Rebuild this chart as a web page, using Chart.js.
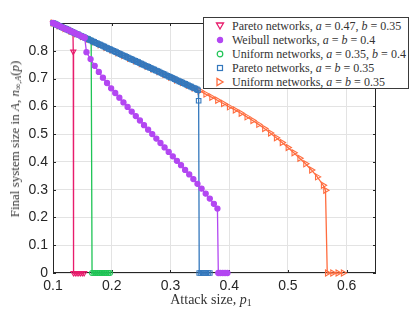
<!DOCTYPE html>
<html>
<head>
<meta charset="utf-8">
<script src="https://cdn.jsdelivr.net/npm/chart.js@4"></script>
<style>
  body { margin: 0; background: #fff; }
  #wrap { position: relative; width: 415px; height: 312px; }
  #chart { position: absolute; left: 0; top: 0; }
  .serif { font-family: "Liberation Serif", "DejaVu Serif", serif; color: #333; }
  .ytitle { position: absolute; left: 15px; top: 139px; white-space: nowrap; font-size: 13px;
            transform: translate(-50%, -50%) rotate(-90deg); }
  .xtitle { position: absolute; left: 211px; top: 300px; white-space: nowrap; font-size: 14px;
            transform: translate(-50%, -50%); }
  sub { font-size: 70%; vertical-align: -0.25em; line-height: 0; }
  .legend { position: absolute; left: 203px; top: 17px; width: 206px; height: 72px;
            background: #fff; border: 1px solid #3a3a3a; box-sizing: border-box; font-size: 12px; }
  .legend .row { position: absolute; left: 0; height: 14px; line-height: 14px; white-space: nowrap; }
  .legend svg { position: absolute; left: 11px; top: 2px; }
  .legend span { position: absolute; left: 28px; top: 0; }
</style>
</head>
<body>
<div id="wrap">
  <canvas id="chart" width="415" height="312"></canvas>
  <div class="serif ytitle">Final system size in <i>A</i>, <i>n</i><sub>∞,<i>A</i></sub>(<i>p</i>)</div>
  <div class="serif xtitle">Attack size, <i>p</i><sub>1</sub></div>
  <div class="serif legend" id="legend"></div>
</div>
<script>
// x ticks / y ticks
const xTicks = [0.1, 0.2, 0.3, 0.4, 0.5, 0.6];
const yTicks = [0, 0.1, 0.2, 0.3, 0.4, 0.5, 0.6, 0.7, 0.8];

// Pareto networks, a = 0.47, b = 0.35
const paretoAP = [0.100, 0.104, 0.108, 0.112, 0.116, 0.120, 0.124, 0.128, 0.132, 0.134, 0.1345, 0.135, 0.138, 0.141, 0.144, 0.147, 0.150, 0.153];
const paretoAN = [0.900, 0.896, 0.892, 0.888, 0.884, 0.880, 0.877, 0.873, 0.869, 0.867, 0.797, 0, 0, 0, 0, 0, 0, 0];

// Weibull networks, a = b = 0.4
const weibullP = [0.100, 0.104, 0.108, 0.112, 0.116, 0.120, 0.124, 0.128, 0.132, 0.136, 0.140, 0.144, 0.148, 0.152, 0.154,
  0.157, 0.164, 0.171, 0.178, 0.185, 0.192, 0.199, 0.206, 0.213, 0.220, 0.227, 0.234, 0.241, 0.248, 0.255, 0.262,
  0.269, 0.276, 0.283, 0.290, 0.297, 0.304, 0.311, 0.318, 0.325, 0.332, 0.339, 0.346, 0.353, 0.360, 0.367, 0.374,
  0.380, 0.3815, 0.385, 0.389, 0.393, 0.397];
const weibullN = [0.900, 0.896, 0.892, 0.888, 0.884, 0.880, 0.877, 0.873, 0.869, 0.865, 0.861, 0.857, 0.853, 0.849, 0.847,
  0.795, 0.770, 0.746, 0.724, 0.703, 0.684, 0.665, 0.648, 0.631, 0.614, 0.598, 0.581, 0.565, 0.549, 0.532, 0.516,
  0.500, 0.484, 0.468, 0.452, 0.436, 0.420, 0.404, 0.388, 0.371, 0.355, 0.338, 0.321, 0.304, 0.286, 0.268, 0.249,
  0.232, 0, 0, 0, 0, 0];

// Uniform networks, a = 0.35, b = 0.4
const uniformAP = [0.100, 0.105, 0.110, 0.115, 0.120, 0.125, 0.130, 0.135, 0.140, 0.145, 0.150, 0.155, 0.160, 0.165,
  0.1665, 0.170, 0.173, 0.176, 0.179, 0.182, 0.185, 0.188, 0.191, 0.194, 0.197];
const uniformAN = [0.900, 0.895, 0.890, 0.885, 0.880, 0.876, 0.871, 0.866, 0.861, 0.856, 0.851, 0.846, 0.842, 0.837,
  0, 0, 0, 0, 0, 0, 0, 0, 0, 0, 0];

// Pareto networks, a = b = 0.35
const paretoBP = [0.1000, 0.1025, 0.1050, 0.1075, 0.1100, 0.1125, 0.1150, 0.1175, 0.1200, 0.1225, 0.1250, 0.1275,
  0.1300, 0.1325, 0.1350, 0.1375, 0.1400, 0.1425, 0.1450, 0.1475, 0.1500, 0.1525, 0.1550, 0.1575, 0.1600, 0.1625,
  0.1650, 0.1675, 0.1700, 0.1725, 0.1750, 0.1775, 0.1800, 0.1825, 0.1850, 0.1875, 0.1900, 0.1925, 0.1950, 0.1975,
  0.2000, 0.2025, 0.2050, 0.2075, 0.2100, 0.2125, 0.2150, 0.2175, 0.2200, 0.2225, 0.2250, 0.2275, 0.2300, 0.2325,
  0.2350, 0.2375, 0.2400, 0.2425, 0.2450, 0.2475, 0.2500, 0.2525, 0.2550, 0.2575, 0.2600, 0.2625, 0.2650, 0.2675,
  0.2700, 0.2725, 0.2750, 0.2775, 0.2800, 0.2825, 0.2850, 0.2875, 0.2900, 0.2925, 0.2950, 0.2975, 0.3000, 0.3025,
  0.3050, 0.3075, 0.3100, 0.3125, 0.3150, 0.3175, 0.3200, 0.3225, 0.3250, 0.3275, 0.3300, 0.3325, 0.3350, 0.3375,
  0.3400, 0.3425, 0.3450, 0.3470, 0.3480, 0.3490, 0.3520, 0.3550, 0.3580, 0.3610, 0.3640, 0.3670];
const paretoBN = [0.900, 0.898, 0.895, 0.893, 0.890, 0.888, 0.885, 0.883, 0.881, 0.878, 0.876, 0.873,
  0.871, 0.868, 0.866, 0.863, 0.861, 0.859, 0.856, 0.854, 0.851, 0.849, 0.846, 0.844, 0.842, 0.839,
  0.837, 0.834, 0.832, 0.829, 0.827, 0.824, 0.822, 0.820, 0.817, 0.815, 0.812, 0.810, 0.807, 0.805,
  0.803, 0.800, 0.798, 0.795, 0.793, 0.790, 0.788, 0.785, 0.783, 0.781, 0.778, 0.776, 0.773, 0.771,
  0.768, 0.766, 0.764, 0.761, 0.759, 0.756, 0.754, 0.751, 0.749, 0.746, 0.744, 0.742, 0.739, 0.737,
  0.734, 0.732, 0.729, 0.727, 0.725, 0.722, 0.720, 0.717, 0.715, 0.712, 0.710, 0.707, 0.705, 0.703,
  0.700, 0.698, 0.695, 0.693, 0.690, 0.688, 0.686, 0.683, 0.681, 0.678, 0.676, 0.673, 0.671, 0.668,
  0.666, 0.664, 0.661, 0.658, 0.620, 0, 0, 0, 0, 0, 0, 0];

// Uniform networks, a = b = 0.35
const uniformBP = [0.10, 0.11, 0.12, 0.13, 0.14, 0.15, 0.16, 0.17, 0.18, 0.19, 0.20, 0.21, 0.22, 0.23, 0.24, 0.25,
  0.26, 0.27, 0.28, 0.29, 0.30, 0.31, 0.32, 0.33, 0.34, 0.35, 0.36, 0.37, 0.38, 0.39, 0.40, 0.41, 0.42, 0.43, 0.44,
  0.45, 0.46, 0.47, 0.48, 0.49, 0.50, 0.51, 0.52, 0.53, 0.54, 0.55, 0.56, 0.564, 0.567, 0.576, 0.585, 0.594];
const uniformBN = [0.900, 0.890, 0.880, 0.871, 0.861, 0.851, 0.842, 0.832, 0.822, 0.812, 0.803, 0.793, 0.783, 0.773,
  0.764, 0.754, 0.744, 0.734, 0.725, 0.715, 0.705, 0.695, 0.686, 0.676, 0.666, 0.656, 0.644, 0.633, 0.622, 0.610,
  0.598, 0.587, 0.575, 0.562, 0.549, 0.535, 0.520, 0.504, 0.487, 0.470, 0.452, 0.433, 0.413, 0.393, 0.371, 0.346,
  0.316, 0.298, 0, 0, 0, 0];

const pts = (xs, ys) => xs.map((x, i) => ({ x: x, y: ys[i] }));

const series = [
  { label: 'Pareto networks, <i>a</i> = 0.47, <i>b</i> = 0.35', color: '#e81c6c', shape: 'triangle', rot: 180,
    fill: false, r: 3, order: 5, xs: paretoAP, ys: paretoAN },
  { label: 'Weibull networks, <i>a</i> = <i>b</i> = 0.4', color: '#b347f2', shape: 'circle', rot: 0,
    fill: true, r: 2.6, order: 1, xs: weibullP, ys: weibullN },
  { label: 'Uniform networks, <i>a</i> = 0.35, <i>b</i> = 0.4', color: '#1fc456', shape: 'circle', rot: 0,
    fill: false, r: 2.5, order: 3, xs: uniformAP, ys: uniformAN },
  { label: 'Pareto networks, <i>a</i> = <i>b</i> = 0.35', color: '#3478bd', shape: 'rect', rot: 0,
    fill: false, r: 3.2, order: 2, xs: paretoBP, ys: paretoBN },
  { label: 'Uniform networks, <i>a</i> = <i>b</i> = 0.35', color: '#ff6c3e', shape: 'triangle', rot: 90,
    fill: false, r: 3.5, order: 4, xs: uniformBP, ys: uniformBN }
];

// matlab-style box with inward ticks
const boxPlugin = {
  id: 'box',
  beforeDatasetsDraw(chart) {
    const { ctx, chartArea: a, scales } = chart;
    ctx.save();
    ctx.strokeStyle = '#262626';
    ctx.lineWidth = 1;
    ctx.strokeRect(a.left + 0.5, a.top + 0.5, a.right - a.left - 1, a.bottom - a.top - 1);
    ctx.beginPath();
    xTicks.forEach(v => {
      const px = Math.round(scales.x.getPixelForValue(v)) + 0.5;
      ctx.moveTo(px, a.bottom); ctx.lineTo(px, a.bottom - 3);
      ctx.moveTo(px, a.top); ctx.lineTo(px, a.top + 3);
    });
    yTicks.forEach(v => {
      const py = Math.round(scales.y.getPixelForValue(v)) + 0.5;
      ctx.moveTo(a.left, py); ctx.lineTo(a.left + 3, py);
      ctx.moveTo(a.right, py); ctx.lineTo(a.right - 3, py);
    });
    ctx.stroke();
    ctx.restore();
  }
};

const fmt = v => (Math.abs(v) < 1e-9 ? '0' : parseFloat(v.toFixed(2)).toString());

new Chart(document.getElementById('chart'), {
  type: 'scatter',
  data: {
    datasets: series.map(s => ({
      label: s.label,
      data: pts(s.xs, s.ys),
      showLine: true,
      borderColor: s.color,
      borderWidth: 1.3,
      pointStyle: s.shape,
      rotation: s.rot,
      pointRadius: s.r,
      pointBorderWidth: 1.1,
      pointBorderColor: s.color,
      pointBackgroundColor: s.fill ? s.color : 'rgba(0,0,0,0)',
      order: s.order,
      clip: false
    }))
  },
  options: {
    responsive: false,
    animation: false,
    devicePixelRatio: 1,
    layout: { padding: { top: 23, right: 39, left: 0, bottom: 0 } },
    plugins: { legend: { display: false }, tooltip: { enabled: false } },
    scales: {
      x: {
        type: 'linear', min: 0.1, max: 0.65,
        afterFit: s => { s.height = 39; },
        afterBuildTicks: s => { s.ticks = xTicks.map(v => ({ value: v })); },
        ticks: { callback: fmt, color: '#262626', padding: 5, maxRotation: 0,
                 font: { family: 'Liberation Sans', size: 14 } },
        grid: { color: '#e3e3e3', drawTicks: false },
        border: { display: false }
      },
      y: {
        type: 'linear', min: 0, max: 0.9,
        afterFit: s => { s.width = 53; },
        afterBuildTicks: s => { s.ticks = yTicks.map(v => ({ value: v })); },
        ticks: { callback: fmt, color: '#262626', padding: 5,
                 font: { family: 'Liberation Sans', size: 14 } },
        grid: { color: '#e3e3e3', drawTicks: false },
        border: { display: false }
      }
    }
  },
  plugins: [boxPlugin]
});

// legend
const legend = document.getElementById('legend');
series.forEach((s, i) => {
  const c = s.color;
  let icon;
  if (s.shape === 'circle') {
    icon = `<circle cx="5" cy="5" r="${s.fill ? 2.6 : 2.8}" fill="${s.fill ? c : 'none'}" stroke="${c}" stroke-width="1.2"/>`;
  } else if (s.shape === 'rect') {
    icon = `<rect x="2.5" y="2.5" width="5" height="5" fill="none" stroke="${c}" stroke-width="1.2"/>`;
  } else if (s.rot === 180) {
    icon = `<polygon points="1.5,2 8.5,2 5,8" fill="none" stroke="${c}" stroke-width="1.3"/>`;
  } else {
    icon = `<polygon points="2,1.5 2,8.5 8,5" fill="none" stroke="${c}" stroke-width="1.3"/>`;
  }
  const row = document.createElement('div');
  row.className = 'row';
  row.style.top = (1 + i * 14) + 'px';
  row.innerHTML = `<svg width="10" height="10">${icon}</svg><span>${s.label}</span>`;
  legend.appendChild(row);
});
</script>
</body>
</html>
